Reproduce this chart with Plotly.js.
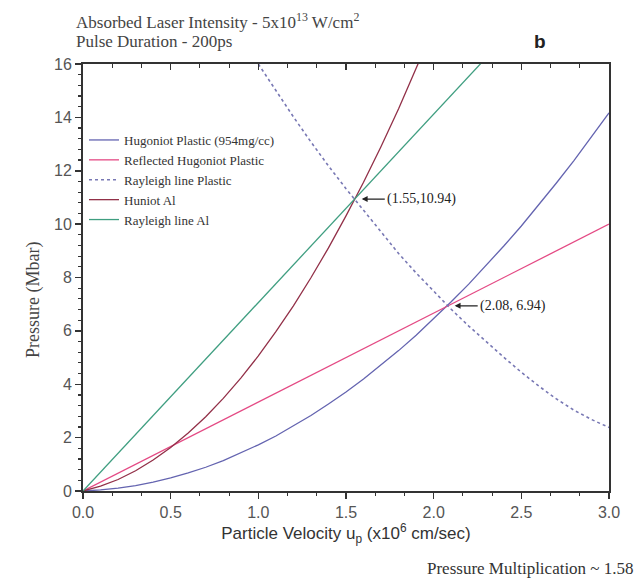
<!DOCTYPE html>
<html>
<head>
<meta charset="utf-8">
<script src="https://cdn.plot.ly/plotly-3.0.1.min.js"></script>
<style>html,body{margin:0;padding:0;background:#fff;}#chart{width:644px;height:582px;}</style>
</head>
<body>
<div id="chart"></div>
<script>
// ---- data ----
const upPlastic = [0,0.1,0.2,0.3,0.4,0.5,0.6,0.7,0.8,0.9,1.0,1.1,1.2,1.3,1.4,1.5,1.6,1.7,1.8,1.9,2.0,2.1,2.2,2.3,2.4,2.5,2.6,2.7,2.8,2.9,3.0];
const pHugPlastic = [0,0.04,0.11,0.20,0.33,0.49,0.68,0.89,1.14,1.42,1.73,2.06,2.43,2.83,3.26,3.71,4.20,4.72,5.26,5.84,6.45,7.09,7.75,8.45,9.18,9.93,10.72,11.54,12.38,13.26,14.17];

const upReflected = [0,0.5,1.0,1.5,2.0,2.5,3.0];
const pReflected = [0,1.67,3.34,5.00,6.67,8.34,10.00];

const upRayPlastic = [1.0,1.1,1.2,1.3,1.4,1.5,1.6,1.7,1.8,1.9,2.0,2.1,2.2,2.3,2.4,2.5,2.6,2.7,2.8,2.9,3.0];
const pRayPlastic = [16.0,14.99,14.02,13.08,12.18,11.33,10.52,9.69,8.90,8.17,7.47,6.81,6.18,5.59,5.01,4.45,3.93,3.45,3.03,2.68,2.38];

const upAl = [0,0.1,0.2,0.3,0.4,0.5,0.6,0.7,0.8,0.9,1.0,1.1,1.2,1.3,1.4,1.5,1.6,1.7,1.8,1.9,2.0];
const pHugAl = [0,0.18,0.43,0.76,1.16,1.63,2.17,2.78,3.47,4.23,5.06,5.97,6.94,7.99,9.11,10.31,11.57,12.91,14.32,15.81,17.36];

const upRayAl = [0,0.5,1.0,1.5,2.0,2.3];
const pRayAl = [0,3.53,7.06,10.59,14.12,16.24];

const seriesNames = ["Hugoniot Plastic (954mg/cc)","Reflected Hugoniot Plastic","Rayleigh line Plastic","Huniot Al","Rayleigh line Al"];
const crossings = [[1.55,10.94,"(1.55,10.94)"],[2.08,6.94,"(2.08, 6.94)"]];
const xTickVals = [0,0.5,1.0,1.5,2.0,2.5,3.0];
const xTickText = ["0.0","0.5","1.0","1.5","2.0","2.5","3.0"];

// ---- layout helpers (pixel -> paper) ----
const L=83, R=609, T=64, B=491;
const px2x = p => (p-L)/(R-L);
const py2y = p => (B-p)/(B-T);
const serif = "Liberation Serif, Times New Roman, serif";
const sans = "Liberation Sans, Arial, sans-serif";

const traces = [
  {x:upPlastic, y:pHugPlastic, name:seriesNames[0], mode:"lines", line:{color:"#6464b0", width:1.3}},
  {x:upReflected, y:pReflected, name:seriesNames[1], mode:"lines", line:{color:"#e44a84", width:1.3}},
  {x:upRayPlastic, y:pRayPlastic, name:seriesNames[2], mode:"lines", line:{color:"#7878b4", width:1.6, dash:"3px,3px"}},
  {x:upAl, y:pHugAl, name:seriesNames[3], mode:"lines", line:{color:"#923048", width:1.3}},
  {x:upRayAl, y:pRayAl, name:seriesNames[4], mode:"lines", line:{color:"#3f9e80", width:1.3}},
  {x:[0,3], y:[0,0], xaxis:"x2", mode:"lines", line:{width:0}, opacity:0, showlegend:false, hoverinfo:"skip"}
];

const annotations = [
  {xref:"paper", yref:"paper", x:px2x(74), y:py2y(21), xanchor:"left", yanchor:"middle", showarrow:false,
   text:"Absorbed Laser Intensity - 5x10<sup>13</sup> W/cm<sup>2</sup>", font:{family:serif, size:17, color:"#444"}},
  {xref:"paper", yref:"paper", x:px2x(74), y:py2y(42), xanchor:"left", yanchor:"middle", showarrow:false,
   text:"Pulse Duration - 200ps", font:{family:serif, size:17, color:"#444"}},
  {xref:"paper", yref:"paper", x:px2x(540), y:py2y(42), xanchor:"center", yanchor:"middle", showarrow:false,
   text:"<b>b</b>", font:{family:sans, size:19, color:"#222"}},
  {xref:"paper", yref:"paper", x:px2x(636), y:py2y(568), xanchor:"right", yanchor:"middle", showarrow:false,
   text:"Pressure Multiplication ~ 1.58", font:{family:serif, size:17, color:"#333"}},
  {xref:"paper", yref:"paper", x:px2x(33), y:py2y(300), xanchor:"center", yanchor:"middle", showarrow:false, textangle:-90,
   text:"Pressure (Mbar)", font:{family:serif, size:18, color:"#444"}}
];
crossings.forEach(c => annotations.push({
  x:c[0], y:c[1], xref:"x", yref:"y", text:c[2], showarrow:true, ax:30, ay:0, xanchor:"left", yanchor:"middle",
  arrowhead:2, arrowsize:0.9, arrowwidth:1.3, arrowcolor:"#222", standoff:7,
  font:{family:serif, size:14, color:"#222"}
}));

const layout = {
  width:644, height:582,
  margin:{l:L, r:644-R, t:T, b:582-B},
  paper_bgcolor:"#fff", plot_bgcolor:"#fff",
  showlegend:true,
  legend:{x:px2x(84), y:py2y(125), xanchor:"left", yanchor:"top", bgcolor:"rgba(0,0,0,0)",
          font:{family:serif, size:13, color:"#333"}, tracegroupgap:0},
  xaxis:{range:[0,3], tickvals:xTickVals, ticktext:xTickText, showgrid:false, zeroline:false,
         showline:true, linewidth:2, linecolor:"#333", mirror:true,
         ticks:"outside", ticklen:6, tickwidth:1.5, tickcolor:"#333",
         minor:{dtick:1/6, tick0:0, ticks:"outside", ticklen:3, tickwidth:1.2, tickcolor:"#333", showgrid:false},
         tickfont:{family:sans, size:16, color:"#555"},
         title:{text:"Particle Velocity u<sub>p</sub> (x10<sup>6</sup> cm/sec)", font:{family:sans, size:17, color:"#333"}, standoff:0}},
  xaxis2:{overlaying:"x", matches:"x", side:"top", range:[0,3], dtick:0.5, tick0:0, showgrid:false, zeroline:false,
          showline:false, showticklabels:false, ticks:"inside", ticklen:6, tickwidth:1.5, tickcolor:"#333",
          minor:{dtick:1/6, tick0:0, ticks:"inside", ticklen:4, tickwidth:1.2, tickcolor:"#333", showgrid:false}},
  yaxis:{range:[0,16], dtick:2, tick0:0, showgrid:false, zeroline:false,
         showline:true, linewidth:2, linecolor:"#333", mirror:true,
         ticks:"outside", ticklen:6, tickwidth:1.5, tickcolor:"#333",
         minor:{dtick:0.4, tick0:0, ticks:"outside", ticklen:3, tickwidth:1.2, tickcolor:"#333", showgrid:false},
         tickfont:{family:sans, size:16, color:"#555"}},
  annotations:annotations
};

Plotly.newPlot("chart", traces, layout, {staticPlot:true, displayModeBar:false});
</script>
</body>
</html>
